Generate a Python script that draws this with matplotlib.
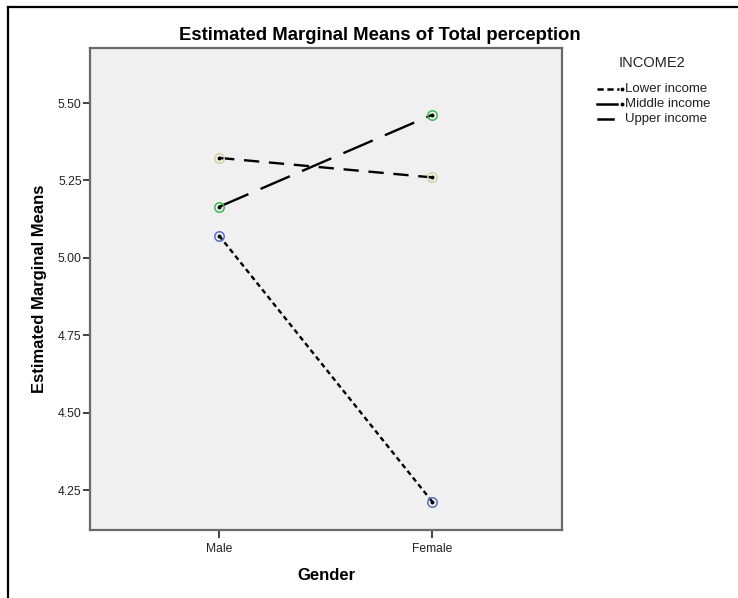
import matplotlib
matplotlib.use("Agg")
import matplotlib.pyplot as plt
from matplotlib.lines import Line2D

plt.rcParams['font.family'] = ['Liberation Sans', 'DejaVu Sans']
plt.rcParams['lines.scale_dashes'] = False

# Data: estimated marginal means of total perception
genders = ["Male", "Female"]
income_groups = ["Lower income", "Middle income", "Upper income"]
lower_income = [5.072, 4.213]
middle_income = [5.165, 5.462]
upper_income = [5.323, 5.260]
y_ticks = [4.25, 4.50, 4.75, 5.00, 5.25, 5.50]

series = [lower_income, middle_income, upper_income]
marker_colors = ["#5a6fc2", "#3cba54", "#d8d39c"]
dash_styles = [(0, (3.6, 2.6)), (0, (23, 9.5)), (0, (11, 7))]

W, H = 738, 598
fig = plt.figure(figsize=(W / 100, H / 100), dpi=100)

ax = fig.add_axes([90 / W, 1 - 530 / H, 472 / W, 482 / H])
ax.set_facecolor("#f0f0f0")

x = list(range(len(genders)))
for vals, col, ds in zip(series, marker_colors, dash_styles):
    ax.plot(x, vals, color="black", linewidth=1.7, linestyle=ds, zorder=2)
    ax.plot(x, vals, linestyle="none", marker="o", markersize=6.8,
            markerfacecolor="none", markeredgecolor=col, markeredgewidth=1.1, zorder=3)
    ax.plot(x, vals, linestyle="none", marker="o", markersize=1.8,
            color="black", zorder=4)

ax.set_xlim(-0.606, 1.61)
ax.set_ylim(4.121, 5.678)
ax.set_xticks(x)
ax.set_xticklabels(genders)
ax.set_yticks(y_ticks)
ax.set_yticklabels([f"{v:.2f}" for v in y_ticks])

for side in ["left", "right", "top", "bottom"]:
    ax.spines[side].set_color("#6a6a6a")
    ax.spines[side].set_linewidth(1.6)

ax.tick_params(axis="y", direction="out", length=5, width=1.3, color="#333333",
               labelsize=8.7, pad=1, labelcolor="#222222")
ax.tick_params(axis="x", direction="out", length=6, width=1.3, color="#333333",
               labelsize=8.7, pad=3, labelcolor="#222222")

ax.set_xlabel("Gender", fontsize=12, fontweight="bold", labelpad=10)
ax.set_ylabel("Estimated Marginal Means", fontsize=12, fontweight="bold", labelpad=8)

fig.text(380 / W, 1 - 36 / H, "Estimated Marginal Means of Total perception",
         ha="center", va="center", fontsize=13.3, fontweight="bold")

# Legend drawn beside the plot area
fig.text(652 / W, 1 - 63 / H, "INCOME2", ha="center", va="center", fontsize=10.5,
         color="#222222")
leg_y = [89, 104, 119]
leg_styles = [(0, (4.5, 2.6)), "-", "-"]
leg_x = [(597, 619), (597, 617), (598, 613)]
for name, ly, ls, (x0, x1), has_dot in zip(income_groups, leg_y, leg_styles, leg_x,
                                          [True, True, False]):
    yy = 1 - ly / H
    fig.add_artist(Line2D([x0 / W, x1 / W], [yy, yy], color="black", linewidth=1.8,
                          linestyle=ls, transform=fig.transFigure))
    if has_dot:
        fig.add_artist(Line2D([621.5 / W], [yy], marker="o", markersize=1.8, color="black",
                              linestyle="none", transform=fig.transFigure))
    fig.text(625 / W, yy, name, ha="left", va="center", fontsize=9.5, color="#222222")

# Frame lines along the top and left edges
fig.add_artist(Line2D([7.5 / W, 1.0], [1 - 6.7 / H, 1 - 6.7 / H], color="black",
                      linewidth=1.6, transform=fig.transFigure))
fig.add_artist(Line2D([7.5 / W, 7.5 / W], [0, 1 - 6.7 / H], color="black",
                      linewidth=1.6, transform=fig.transFigure))

fig.savefig("out.png", dpi=100)
